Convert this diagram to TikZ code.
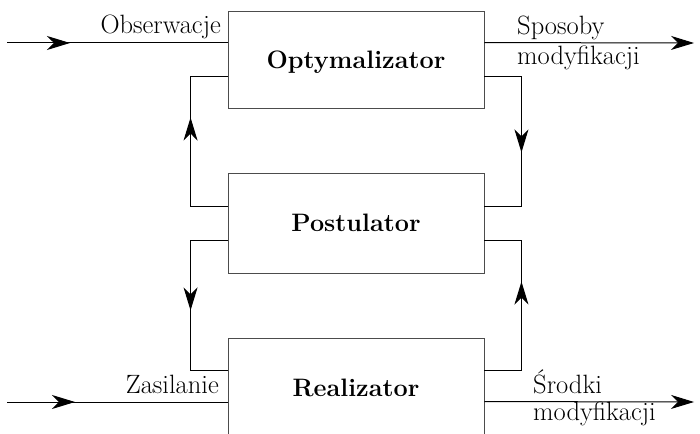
\documentclass[tikz,border=0pt]{standalone}
\usetikzlibrary{arrows.meta,decorations.markings}

\begin{document}
\begin{tikzpicture}[x=1pt,y=1pt,
    blok/.style={draw=black!70,line width=0.9pt,minimum width=256pt,minimum height=#1,
      inner sep=0pt,text height=17.5pt,text depth=0pt,font=\fontsize{25.2}{29}\selectfont\bfseries},
    opis/.style={inner sep=0pt,font=\fontsize{26.5}{30}\selectfont},
    linia/.style={line width=1pt},
    grot/.style={-{Stealth[length=23pt,width=14pt,inset=7pt]}},
    strzalka/.style={postaction={decorate},
      decoration={markings,mark=at position #1 with {\arrow{Stealth[length=23pt,width=14pt,inset=7pt]}}}}]
    \useasboundingbox (0,0) rectangle (700,433);
    \clip (0,0) rectangle (700,433);

    \node[blok=97pt] (opt) at (356,373.5) {Optymalizator};
    \node[blok=100pt] (post) at (356,210) {Postulator};
    \node[blok=100pt] (real) at (356,45) {Realizator};

    \coordinate (wej-gora) at (7,390);
    \coordinate (wyj-gora) at (694,390);
    \coordinate (wej-dol) at (7,31);
    \coordinate (wyj-dol) at (694,31);

    \draw[linia,strzalka=63pt] (wej-gora) -- (wej-gora -| opt.west);
    \draw[linia,grot] ([yshift=-32pt]opt.north east) -- (wyj-gora);
    \draw[linia,strzalka=68pt] (wej-dol) -- (wej-dol -| real.west);
    \draw[linia,grot] ([yshift=-64pt]real.north east) -- (wyj-dol);

    \draw[linia,strzalka=126pt] ([yshift=-34pt]post.north west) -- ++(-37,0) |- ([yshift=32pt]opt.south west);
    \draw[linia,strzalka=113pt] ([yshift=32pt]opt.south east) -- ++(37,0) |- ([yshift=-34pt]post.north east);
    \draw[linia,strzalka=107pt] ([yshift=33pt]post.south west) -- ++(-37,0) |- ([yshift=-33pt]real.north west);
    \draw[linia,strzalka=126pt] ([yshift=-33pt]real.north east) -- ++(37,0) |- ([yshift=33pt]post.south east);

    \node[opis,anchor=base east] (obserwacje) at (221,399) {Obserwacje};
    \node[opis,anchor=base west] (sposoby) at (517,398) {Sposoby};
    \node[opis,anchor=base west] (modyf-gora) at (517,368) {modyfikacji};
    \node[opis,anchor=base east] (zasilanie) at (219,39) {Zasilanie};
    \node[opis,anchor=base west] (srodki) at (533,39) {Środki};
    \node[opis,anchor=base west] (modyf-dol) at (533,13) {modyfikacji};
\end{tikzpicture}
\end{document}
